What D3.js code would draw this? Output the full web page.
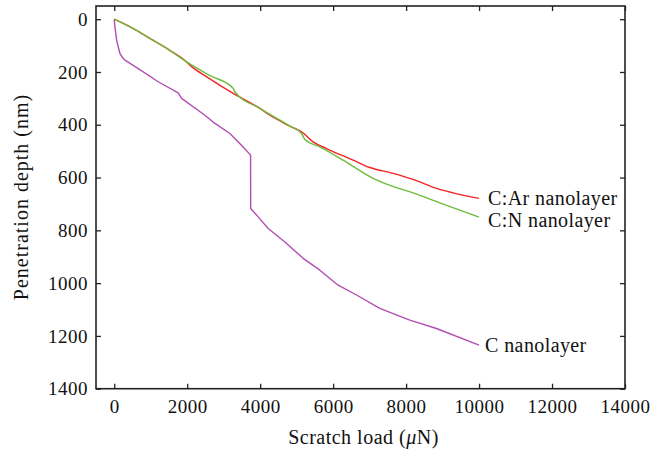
<!DOCTYPE html>
<html>
<head>
<meta charset="utf-8">
<script src="https://cdn.jsdelivr.net/npm/d3@7"></script>
<style>
  html, body { margin: 0; padding: 0; background: #fff; }
  svg { display: block; }
</style>
</head>
<body>
<svg id="chart" width="661" height="451" font-family="Liberation Serif"></svg>
<script>
// ---- data ----
const xTicks = [0, 2000, 4000, 6000, 8000, 10000, 12000, 14000];
const yTicks = [0, 200, 400, 600, 800, 1000, 1200, 1400];

const seriesNames = ["C:Ar nanolayer", "C:N nanolayer", "C nanolayer"];

const carLoad  = [0, 500, 978, 1500, 1984, 2074, 2600, 3260, 3992, 4266, 4814, 5178, 5452, 5819, 6548, 7005, 7644, 8192, 8833, 9288, 10000];
const carDepth = [0, 34, 73, 116, 162, 174, 224, 281, 338, 364, 405, 431, 465, 490, 534, 562, 584, 607, 641, 658, 679];

const cnLoad  = [0, 500, 978, 1500, 1984, 2600, 3260, 3307, 3992, 4814, 5134, 5225, 5636, 6274, 7096, 7463, 8192, 8923, 10000];
const cnDepth = [0, 34, 73, 116, 162, 212, 262, 275, 338, 405, 433, 456, 484, 534, 603, 625, 658, 696, 750];

const cLoad  = [0, 20, 66, 156, 247, 293, 658, 1205, 1753, 1847, 2485, 2759, 3170, 3534, 3737, 3740, 3945, 4219, 4677, 5178, 5636, 6137, 6641, 7279, 8101, 8833, 10000];
const cDepth = [0, 30, 80, 130, 149, 155, 187, 237, 279, 300, 364, 395, 433, 484, 515, 717, 749, 793, 844, 906, 951, 1008, 1045, 1096, 1140, 1172, 1235];

const colors = ["#f42424", "#6dbd3d", "#b24db2"];

// ---- layout ----
const svg = d3.select("#chart");
const x = d3.scaleLinear().domain([-500, 14000]).range([96, 625]);
const y = d3.scaleLinear().domain([-50, 1400]).range([6, 388.7]);

const frameColor = "#222";

function styleText(sel, size, ls) {
  sel.attr("font-family", "Liberation Serif")
     .attr("font-size", size)
     .style("font-family", '"Liberation Serif"')
     .style("font-size", size + "px")
     .style("letter-spacing", ls + "px")
     .attr("fill", "#111");
}

// axes
svg.append("g")
  .attr("transform", `translate(0,${y.range()[1]})`)
  .call(d3.axisBottom(x).tickValues(xTicks).tickSizeInner(-5).tickSizeOuter(0).tickPadding(11).tickFormat(d3.format("d")))
  .attr("font-family", "Liberation Serif")
  .call(g => g.select(".domain").remove())
  .call(g => g.selectAll("line").attr("stroke", frameColor).attr("stroke-width", 1.3))
  .call(g => styleText(g.selectAll("text"), 19, 0.5));

svg.append("g")
  .attr("transform", `translate(0,${y.range()[0]})`)
  .call(d3.axisTop(x).tickValues(xTicks).tickSizeInner(-5).tickSizeOuter(0).tickFormat(""))
  .call(g => g.select(".domain").remove())
  .call(g => g.selectAll("line").attr("stroke", frameColor).attr("stroke-width", 1.3));

svg.append("g")
  .attr("transform", `translate(${x.range()[0]},0)`)
  .call(d3.axisLeft(y).tickValues(yTicks).tickSizeInner(-5).tickSizeOuter(0).tickPadding(8).tickFormat(d3.format("d")))
  .attr("font-family", "Liberation Serif")
  .call(g => g.select(".domain").remove())
  .call(g => g.selectAll("line").attr("stroke", frameColor).attr("stroke-width", 1.3))
  .call(g => styleText(g.selectAll("text"), 19, 0.5));

svg.append("g")
  .attr("transform", `translate(${x.range()[1]},0)`)
  .call(d3.axisRight(y).tickValues(yTicks).tickSizeInner(-5).tickSizeOuter(0).tickFormat(""))
  .call(g => g.select(".domain").remove())
  .call(g => g.selectAll("line").attr("stroke", frameColor).attr("stroke-width", 1.3));

// frame
svg.append("rect")
  .attr("x", x.range()[0]).attr("y", y.range()[0])
  .attr("width", x.range()[1] - x.range()[0])
  .attr("height", y.range()[1] - y.range()[0])
  .attr("fill", "none").attr("stroke", frameColor).attr("stroke-width", 1.6);

// lines
const line = d3.line().x(d => x(d[0])).y(d => y(d[1])).curve(d3.curveMonotoneX);
const lineC = d3.line().x(d => x(d[0])).y(d => y(d[1]));
const series = [
  d3.zip(carLoad, carDepth),
  d3.zip(cnLoad, cnDepth),
  d3.zip(cLoad, cDepth)
];
// C first, then C:Ar, then C:N on top (as in the reference)
[2, 0, 1].forEach(i => {
  svg.append("path")
    .datum(series[i])
    .attr("d", i === 2 ? lineC : line)
    .attr("fill", "none")
    .attr("stroke", colors[i])
    .attr("stroke-width", 1.4)
    .attr("stroke-linejoin", "round");
});

// series labels
const labelPos = [
  {dx: 9, dy: 7},
  {dx: 9, dy: 10},
  {dx: 6, dy: 7}
];
series.forEach((s, i) => {
  const last = s[s.length - 1];
  svg.append("text")
    .attr("x", x(last[0]) + labelPos[i].dx)
    .attr("y", y(last[1]) + labelPos[i].dy)
    .call(t => styleText(t, 20, 0.4))
    .text(seriesNames[i]);
});

// axis titles
const xt = svg.append("text")
  .attr("x", (x.range()[0] + x.range()[1]) / 2 + 3)
  .attr("y", 444)
  .attr("text-anchor", "middle")
  .call(t => styleText(t, 20, 0.5));
xt.append("tspan").text("Scratch load (");
xt.append("tspan").style("font-style", "italic").text("μ");
xt.append("tspan").text("N)");

svg.append("text")
  .attr("transform", `translate(28,197) rotate(-90)`)
  .attr("text-anchor", "middle")
  .call(t => styleText(t, 20, 1))
  .text("Penetration depth (nm)");
</script>
</body>
</html>
